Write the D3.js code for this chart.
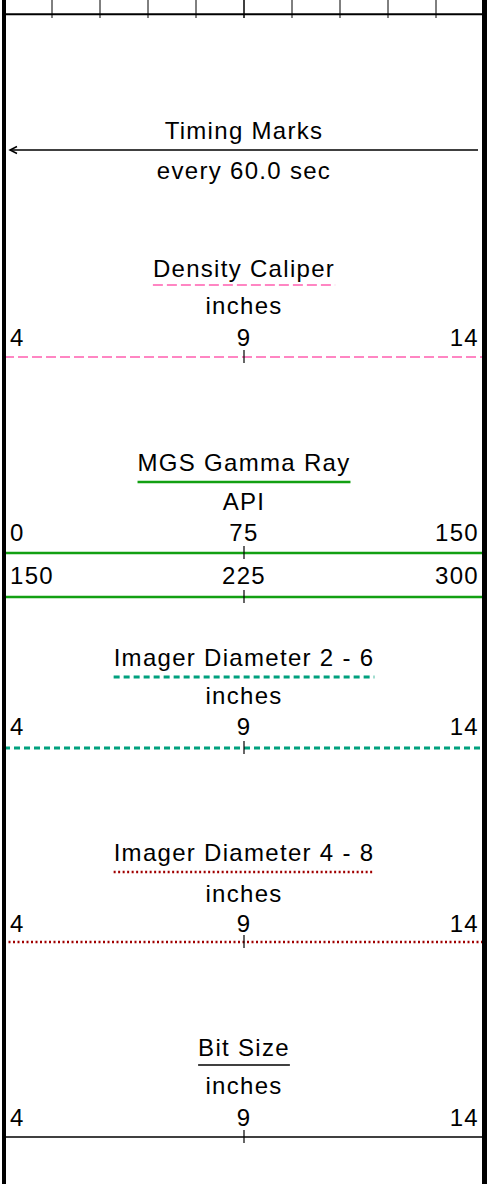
<!DOCTYPE html>
<html>
<head>
<meta charset="utf-8">
<script src="https://cdn.jsdelivr.net/npm/d3@7"></script>
<style>
  body { margin: 0; background: #fff; }
  svg text { font-family: "Liberation Sans", Arial, sans-serif; font-size: 24px; letter-spacing: 1.3px; fill: #000; }
</style>
</head>
<body>
<svg class="header" width="490" height="1184"></svg>
<script>
// grid divisions across the track (top strip)
var gridDivisions = [0, 1, 2, 3, 4, 5, 6, 7, 8, 9, 10];

// timing marks
var timingTitle = "Timing Marks";
var timingNote = "every 60.0 sec";

// curve headers
var curveNames = ["Density Caliper", "MGS Gamma Ray", "Imager Diameter 2 - 6", "Imager Diameter 4 - 8", "Bit Size"];
var curveUnits = ["inches", "API", "inches", "inches", "inches"];
var curveLeft = [4, 0, 4, 4, 4];
var curveRight = [14, 150, 14, 14, 14];
// gamma ray wraps to a second scale
var wrapLeft = [null, 150, null, null, null];
var wrapRight = [null, 300, null, null, null];

(function headerIIFE() {
    var svg = d3.select("svg.header"),
        left = 4, right = 484;

    var x = d3.scaleLinear().domain([0, 10]).range([left, right]);

    // styles for each curve
    var styles = [
        {color: "#ff5fb0", width: 1.5, dash: "10,4"},
        {color: "#12a012", width: 2.5, dash: null},
        {color: "#00a07e", width: 3.2, dash: "6,4"},
        {color: "#a00000", width: 2.5, dash: "2,2.5"},
        {color: "#000000", width: 1.5, dash: null}
    ];
    // vertical layout of each header block (title baseline, underline, unit baseline, label baseline, scale line)
    var blocks = [
        {title: 277, under: 285, unit: 314, label: 346, line: 357},
        {title: 471, under: 482, unit: 510, label: 541, line: 553, label2: 584, line2: 597},
        {title: 666, under: 677, unit: 704, label: 735, line: 748},
        {title: 861, under: 872, unit: 902, label: 932, line: 942},
        {title: 1056, under: 1065, unit: 1094, label: 1126, line: 1137}
    ];

    // top grid strip
    svg.append("g").selectAll("line")
        .data(gridDivisions)
        .join("line")
        .attr("x1", function(d) { return x(d); })
        .attr("x2", function(d) { return x(d); })
        .attr("y1", 0)
        .attr("y2", 18)
        .attr("stroke", "#000")
        .attr("stroke-width", function(d) { return d === 5 ? 1.5 : 1; });

    svg.append("line")
        .attr("x1", left).attr("x2", right)
        .attr("y1", 14.3).attr("y2", 14.3)
        .attr("stroke", "#000").attr("stroke-width", 2);

    // timing marks
    var mid = x(5);
    svg.append("text").attr("x", mid).attr("y", 139)
        .attr("text-anchor", "middle").text(timingTitle);
    svg.append("line")
        .attr("x1", 478).attr("x2", left + 6)
        .attr("y1", 150).attr("y2", 150)
        .attr("stroke", "#000").attr("stroke-width", 1.3);
    svg.append("path")
        .attr("d", "M" + (left + 13) + ",146.5L" + (left + 6) + ",150L" + (left + 13) + ",153.5")
        .attr("fill", "none").attr("stroke", "#000").attr("stroke-width", 1.5);
    svg.append("text").attr("x", mid).attr("y", 179)
        .attr("text-anchor", "middle").text(timingNote);

    function scaleRow(g, lo, hi, labelY, lineY, st) {
        var s = d3.scaleLinear().domain([lo, hi]).range([left, right]);
        var m = (lo + hi) / 2;
        g.append("text").attr("x", s(lo) + 6).attr("y", labelY)
            .attr("text-anchor", "start").text(lo);
        g.append("text").attr("x", s(m)).attr("y", labelY)
            .attr("text-anchor", "middle").text(m);
        g.append("text").attr("x", s(hi) - 5).attr("y", labelY)
            .attr("text-anchor", "end").text(hi);
        g.append("line")
            .attr("x1", left).attr("x2", right)
            .attr("y1", lineY).attr("y2", lineY)
            .attr("stroke", st.color).attr("stroke-width", st.width)
            .attr("stroke-dasharray", st.dash);
        g.append("line")
            .attr("x1", s(m)).attr("x2", s(m))
            .attr("y1", lineY - 7).attr("y2", lineY + 6)
            .attr("stroke", "#000").attr("stroke-width", 1.2);
    }

    curveNames.forEach(function(name, i) {
        var b = blocks[i], st = styles[i];
        var g = svg.append("g");
        var title = g.append("text").attr("x", mid).attr("y", b.title)
            .attr("text-anchor", "middle").text(name);
        var w = title.node().getComputedTextLength();
        g.append("line")
            .attr("x1", mid - w / 2).attr("x2", mid + w / 2)
            .attr("y1", b.under).attr("y2", b.under)
            .attr("stroke", st.color).attr("stroke-width", st.width)
            .attr("stroke-dasharray", st.dash);
        g.append("text").attr("x", mid).attr("y", b.unit)
            .attr("text-anchor", "middle").text(curveUnits[i]);
        scaleRow(g, curveLeft[i], curveRight[i], b.label, b.line, st);
        if (wrapLeft[i] !== null) {
            scaleRow(g, wrapLeft[i], wrapRight[i], b.label2, b.line2, st);
        }
    });

    // track borders
    svg.append("line").attr("x1", left).attr("x2", left)
        .attr("y1", 0).attr("y2", 1184)
        .attr("stroke", "#000").attr("stroke-width", 4);
    svg.append("line").attr("x1", right + 0.5).attr("x2", right + 0.5)
        .attr("y1", 0).attr("y2", 1184)
        .attr("stroke", "#000").attr("stroke-width", 5);
})();
</script>
</body>
</html>
